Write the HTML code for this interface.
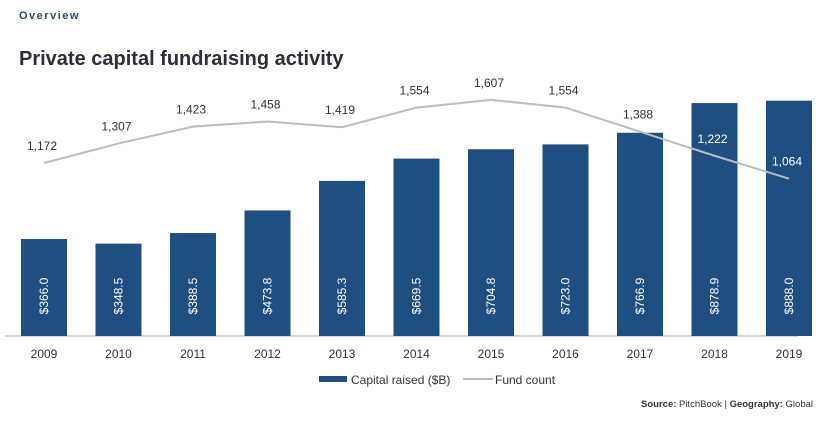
<!DOCTYPE html>
<html><head><meta charset="utf-8"><style>
body{margin:0;background:#fff;width:838px;height:424px;overflow:hidden;font-family:"Liberation Sans",sans-serif}
svg text{font-family:"Liberation Sans",sans-serif}
</style></head><body>
<svg id="chart" width="838" height="424">
<text x="19" y="19" font-size="11" font-weight="bold" fill="#2a4a6b" letter-spacing="1.5">Overview</text>
<text x="19" y="65" font-size="20" font-weight="bold" fill="#2b2f3a">Private capital fundraising activity</text>
<line x1="5" y1="336" x2="798" y2="336" stroke="#c8c8c8" stroke-width="1.5"/>
<g id="bars"></g><g id="line"></g><g id="labels"></g>
<g>
<rect x="319" y="376" width="28" height="6" fill="#1f4e80"/>
<text x="351" y="384" font-size="12" fill="#333">Capital raised ($B)</text>
<line x1="463" y1="379" x2="493" y2="379" stroke="#b8bcc4" stroke-width="2"/>
<text x="495" y="384" font-size="12" fill="#333">Fund count</text>
</g>
<text x="813" y="407" font-size="9.5" fill="#333" text-anchor="end"><tspan font-weight="bold">Source:</tspan> PitchBook | <tspan font-weight="bold">Geography:</tspan> Global</text>
</svg>
<script>
const years=["2009","2010","2011","2012","2013","2014","2015","2016","2017","2018","2019"];
const capital=[366.0,348.5,388.5,473.8,585.3,669.5,704.8,723.0,766.9,878.9,888.0];
const funds=[1172,1307,1423,1458,1419,1554,1607,1554,1388,1222,1064];
const NS="http://www.w3.org/2000/svg";
const x=i=>44+i*74.5;
const yb=v=>336-v*0.265;
const yl=v=>163-(v-1172)*0.145;
const bars=document.getElementById('bars'),line=document.getElementById('line'),labels=document.getElementById('labels');
function mk(t,a,p){const e=document.createElementNS(NS,t);for(const k in a)e.setAttribute(k,a[k]);p.appendChild(e);return e;}
years.forEach((yr,i)=>{
 const r=mk('rect',{x:x(i)-23,y:yb(capital[i]),width:46,height:336-yb(capital[i]),fill:'#1f4e80'},bars);
 
 
 const t=mk('text',{x:0,y:0,'font-size':12,fill:'#fff','text-anchor':'middle',transform:`translate(${x(i)+4},296) rotate(-90)`},bars);
 t.textContent='$'+capital[i].toFixed(1);
 
 
 const xl=mk('text',{x:x(i),y:358,'font-size':12,fill:'#333','text-anchor':'middle'},labels);
 xl.textContent=yr;
 
 
});
const pl=mk('polyline',{points:funds.map((v,i)=>x(i)+','+yl(v)).join(' '),fill:'none',stroke:'#b8bcc4','stroke-width':2},line);


funds.forEach((v,i)=>{
 const py=yl(v)-13;
 const inside=py>yb(capital[i]);
 const t=mk('text',{x:x(i)-2,y:py,'font-size':12,fill:inside?'#fff':'#333','text-anchor':'middle'},line);
 t.textContent=v.toLocaleString('en-US');
 
 
});
</script>
</body></html>
